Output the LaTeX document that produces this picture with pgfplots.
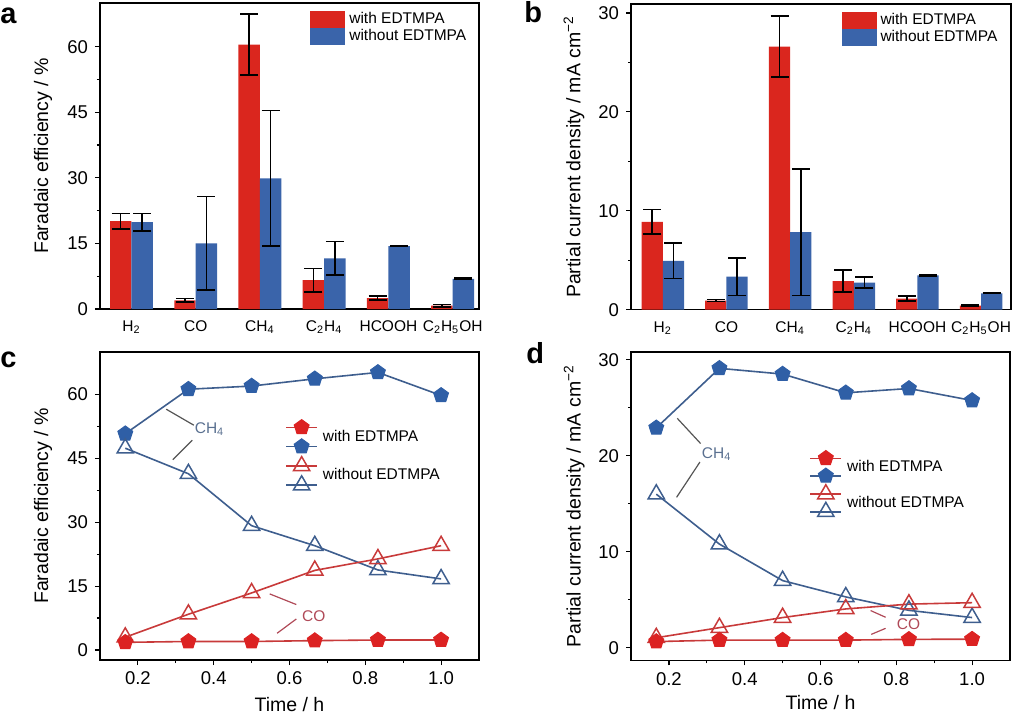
\documentclass[border=0pt]{standalone}
\usepackage{fontspec}
\setmainfont{Liberation Sans}
\usepackage{pgfplots}
\pgfplotsset{compat=1.18}
\definecolor{barred}{HTML}{DA261E}
\definecolor{barblue}{HTML}{3A64AA}
\definecolor{lred}{HTML}{C83A3A}
\definecolor{mred}{HTML}{DC2222}
\definecolor{lblue}{HTML}{3E5E8E}
\definecolor{mblue}{HTML}{2F5FA6}
\definecolor{annblue}{HTML}{5A7090}
\definecolor{annred}{HTML}{B04A58}
\definecolor{anngray}{HTML}{555555}
\newcommand{\tickfont}{\fontsize{9.25}{11}\selectfont}
\newcommand{\labfont}{\fontsize{9.75}{11.5}\selectfont}
\newcommand{\smfont}{\fontsize{7.75}{9}\selectfont}
\tikzset{
  rf/.style={color=lred, line width=0.8pt, mark=pentagon*, mark size=3.9pt, mark options={fill=mred, draw=mred, line width=0.5pt}},
  bf/.style={color=lblue, line width=0.8pt, mark=pentagon*, mark size=3.9pt, mark options={fill=mblue, draw=mblue, line width=0.5pt}},
  ro/.style={color=lred, line width=0.8pt, mark=triangle, mark size=4.7pt, mark options={fill=white, draw=lred, line width=0.75pt}},
  bo/.style={color=lblue, line width=0.8pt, mark=triangle, mark size=4.7pt, mark options={fill=white, draw=lblue, line width=0.75pt}},
}
\pgfplotsset{
  common/.style={
    scale only axis, anchor=south west,
    axis line style={line width=0.7pt, black},
    tick align=outside, tick pos=left,
    major tick length=2.5pt, minor tick length=1.5pt,
    every tick/.style={black, line width=0.6pt},
    /pgf/number format/assume math mode=true,
    yticklabel style={font=\tickfont},
    xticklabel style={font=\tickfont},
    ylabel style={font=\labfont, at={(axis description cs:-0.15,0.5)}, anchor=center},
    xlabel style={font=\labfont, anchor=center},
  },
  barax/.style={
    common, ybar=0pt, bar width=0.334,
    xtick={0,...,5},
    xticklabels={H\textsubscript{2},CO,CH\textsubscript{4},C\textsubscript{2}H\textsubscript{4},HCOOH,C\textsubscript{2}H\textsubscript{5}OH},
    xticklabel style={font=\smfont},
    xtick style={draw=none},
    ymin=0, minor y tick num=1,
    legend style={draw=none, fill=none, font=\smfont, inner sep=0pt, row sep=0pt,
      nodes={inner ysep=0pt, inner xsep=2pt}, cells={anchor=west}},
  },
  errs/.style={error bars/.cd, y dir=both, y explicit,
    error bar style={black, line width=0.75pt},
    error mark options={black, mark size=4.5pt, line width=0.75pt, rotate=90}},
  lineax/.style={
    common, xmin=0.1, xmax=1.1,
    xtick={0.2,0.4,0.6,0.8,1.0}, xticklabels={0.2,0.4,0.6,0.8,1.0},
    minor x tick num=1, minor y tick num=1,
    xlabel={Time / h},
    legend style={draw=none, fill=none, font=\smfont, inner sep=0pt, row sep=0pt,
      nodes={inner ysep=0pt, inner xsep=2.5pt}, cells={anchor=west}},
  },
}
\begin{document}
\begin{tikzpicture}
\useasboundingbox (0,0) rectangle (506pt,357pt);
% ---------------- a
\begin{axis}[barax, at={(50pt,202.5pt)}, width=189.5pt, height=153pt,
  xmin=-0.49, xmax=5.41, ymax=70, ytick={0,15,30,45,60},
  ylabel={Faradaic efficiency / \%},
  legend style={at={(axis description cs:0.554,0.975)}, anchor=north west},
  legend image code/.code={\fill[#1] (0pt,-4.3pt) rectangle (17.5pt,4.3pt);}]
\addplot[fill=barred, draw=none, errs] coordinates {
 (0,20.1) +- (0,1.75) (1,2.0) +- (0,0.4) (2,60.5) +- (0,7.0)
 (3,6.6) +- (0,2.7) (4,2.5) +- (0,0.45) (5,0.76) +- (0,0.3)};
\addplot[fill=barblue, draw=none, errs] coordinates {
 (0,19.9) +- (0,2.0) (1,15.0) +- (0,10.7) (2,29.9) +- (0,15.5)
 (3,11.6) +- (0,3.8) (4,14.4) +- (0,0.08) (5,6.9) +- (0,0.15)};
\legend{with EDTMPA, without EDTMPA}
\end{axis}
% ---------------- b
\begin{axis}[barax, at={(315.5pt,202.15pt)}, width=190pt, height=152.85pt,
  xmin=-0.5, xmax=5.47, ymax=30.9, ytick={0,10,20,30},
  ylabel={Partial current density / mA cm\textsuperscript{−2}},
  legend style={at={(axis description cs:0.553,0.975)}, anchor=north west},
  legend image code/.code={\fill[#1] (0pt,-4.3pt) rectangle (17.5pt,4.3pt);}]
\addplot[fill=barred, draw=none, errs] coordinates {
 (0,8.88) +- (0,1.25) (1,0.91) +- (0,0.1) (2,26.6) +- (0,3.1)
 (3,2.9) +- (0,1.1) (4,1.11) +- (0,0.25) (5,0.4) +- (0,0.07)};
\addplot[fill=barblue, draw=none, errs] coordinates {
 (0,4.93) +- (0,1.8) (1,3.34) +- (0,1.9) (2,7.83) +- (0,6.4)
 (3,2.73) +- (0,0.56) (4,3.48) +- (0,0.08) (5,1.65) +- (0,0.03)};
\legend{with EDTMPA, without EDTMPA}
\end{axis}
% ---------------- c
\begin{axis}[lineax, at={(50pt,27pt)}, width=189.5pt, height=154pt,
  ymin=-2.35, ymax=70, ytick={0,15,30,45,60},
  ylabel={Faradaic efficiency / \%},
  xlabel style={at={(axis description cs:0.5,-0.143)}},
  legend style={at={(axis description cs:0.488,0.788)}, anchor=north west}]
\addlegendimage{legend image code/.code={
  \path[draw=none, fill=none] (0pt,-9.65pt) rectangle (15.5pt,9.65pt);
  \draw[lred, line width=0.8pt] (0pt,4.8pt) -- (15.5pt,4.8pt);
  \draw[lblue, line width=0.8pt] (0pt,-4.8pt) -- (15.5pt,-4.8pt);
  \draw[rf] plot coordinates {(7.75pt,4.8pt)};
  \draw[bf] plot coordinates {(7.75pt,-4.8pt)};}}
\addlegendentry{with EDTMPA}
\addlegendimage{legend image code/.code={
  \path[draw=none, fill=none] (0pt,-9.65pt) rectangle (15.5pt,9.65pt);
  \draw[lred, line width=0.8pt] (0pt,4.8pt) -- (15.5pt,4.8pt);
  \draw[lblue, line width=0.8pt] (0pt,-4.8pt) -- (15.5pt,-4.8pt);
  \draw[ro] plot coordinates {(7.75pt,4.8pt)};
  \draw[bo] plot coordinates {(7.75pt,-4.8pt)};}}
\addlegendentry{without EDTMPA}
\addplot[bf, forget plot] coordinates {(0.1667,50.8) (0.3333,61.25) (0.5,62.0) (0.6667,63.7) (0.8333,65.2) (1.0,59.8)};
\addplot[bo, forget plot] coordinates {(0.1667,47.4) (0.3333,41.4) (0.5,29.2) (0.6667,24.5) (0.8333,18.8) (1.0,16.7)};
\addplot[ro, forget plot] coordinates {(0.1667,3.0) (0.3333,8.4) (0.5,13.4) (0.6667,18.7) (0.8333,21.4) (1.0,24.5)};
\addplot[rf, forget plot] coordinates {(0.1667,1.8) (0.3333,2.0) (0.5,2.0) (0.6667,2.2) (0.8333,2.35) (1.0,2.35)};
\draw[anngray, line width=0.6pt] (axis cs:0.2748,56.56) -- (axis cs:0.3476,52.8);
\draw[anngray, line width=0.6pt] (axis cs:0.2922,44.7) -- (axis cs:0.3434,49.27);
\node[annblue, font=\smfont] at (axis cs:0.389,52.0) {CH\textsubscript{4}};
\draw[annred, line width=0.6pt] (axis cs:0.5478,13.18) -- (axis cs:0.618,10.68);
\draw[annred, line width=0.6pt] (axis cs:0.5673,3.93) -- (axis cs:0.618,7.29);
\node[annred, font=\smfont] at (axis cs:0.6643,7.93) {CO};
\end{axis}
% ---------------- d
\begin{axis}[lineax, at={(315.5pt,26.85pt)}, width=189.5pt, height=154.15pt,
  ymin=-1.3, ymax=30.8, ytick={0,10,20,30},
  ylabel={Partial current density / mA cm\textsuperscript{−2}},
  xlabel style={at={(axis description cs:0.5,-0.138)}},
  legend style={at={(axis description cs:0.47,0.685)}, anchor=north west}]
\addlegendimage{legend image code/.code={
  \path[draw=none, fill=none] (0pt,-8.8pt) rectangle (15.5pt,8.8pt);
  \draw[lred, line width=0.8pt] (0pt,4.4pt) -- (15.5pt,4.4pt);
  \draw[lblue, line width=0.8pt] (0pt,-4.4pt) -- (15.5pt,-4.4pt);
  \draw[rf] plot coordinates {(7.75pt,4.4pt)};
  \draw[bf] plot coordinates {(7.75pt,-4.4pt)};}}
\addlegendentry{with EDTMPA}
\addlegendimage{legend image code/.code={
  \path[draw=none, fill=none] (0pt,-8.8pt) rectangle (15.5pt,8.8pt);
  \draw[lred, line width=0.8pt] (0pt,4.4pt) -- (15.5pt,4.4pt);
  \draw[lblue, line width=0.8pt] (0pt,-4.4pt) -- (15.5pt,-4.4pt);
  \draw[ro] plot coordinates {(7.75pt,4.4pt)};
  \draw[bo] plot coordinates {(7.75pt,-4.4pt)};}}
\addlegendentry{without EDTMPA}
\addplot[bf, forget plot] coordinates {(0.1667,22.9) (0.3333,29.1) (0.5,28.5) (0.6667,26.55) (0.8333,27.0) (1.0,25.75)};
\addplot[bo, forget plot] coordinates {(0.1667,16.0) (0.3333,10.8) (0.5,7.0) (0.6667,5.3) (0.8333,3.9) (1.0,3.15)};
\addplot[ro, forget plot] coordinates {(0.1667,1.05) (0.3333,2.1) (0.5,3.15) (0.6667,4.05) (0.8333,4.55) (1.0,4.7)};
\addplot[rf, forget plot] coordinates {(0.1667,0.65) (0.3333,0.8) (0.5,0.8) (0.6667,0.8) (0.8333,0.88) (1.0,0.9)};
\draw[anngray, line width=0.6pt] (axis cs:0.2222,23.89) -- (axis cs:0.2836,21.27);
\draw[anngray, line width=0.6pt] (axis cs:0.2203,15.67) -- (axis cs:0.2818,19.34);
\node[annblue, font=\smfont] at (axis cs:0.3259,20.15) {CH\textsubscript{4}};
\draw[annred, line width=0.6pt] (axis cs:0.7322,3.88) -- (axis cs:0.7718,3.18);
\draw[annred, line width=0.6pt] (axis cs:0.734,1.40) -- (axis cs:0.7718,2.03);
\node[annred, font=\smfont] at (axis cs:0.8324,2.44) {CO};
\end{axis}
% panel letters
\node[anchor=base west, inner sep=0pt, font=\fontsize{14.5}{16}\selectfont\bfseries] at (0pt,345.35pt) {a};
\node[anchor=base west, inner sep=0pt, font=\fontsize{14.5}{16}\selectfont\bfseries] at (262pt,345.5pt) {b};
\node[anchor=base west, inner sep=0pt, font=\fontsize{14.5}{16}\selectfont\bfseries] at (0pt,173.5pt) {c};
\node[anchor=base west, inner sep=0pt, font=\fontsize{14.5}{16}\selectfont\bfseries] at (263pt,175.5pt) {d};
\end{tikzpicture}
\end{document}
